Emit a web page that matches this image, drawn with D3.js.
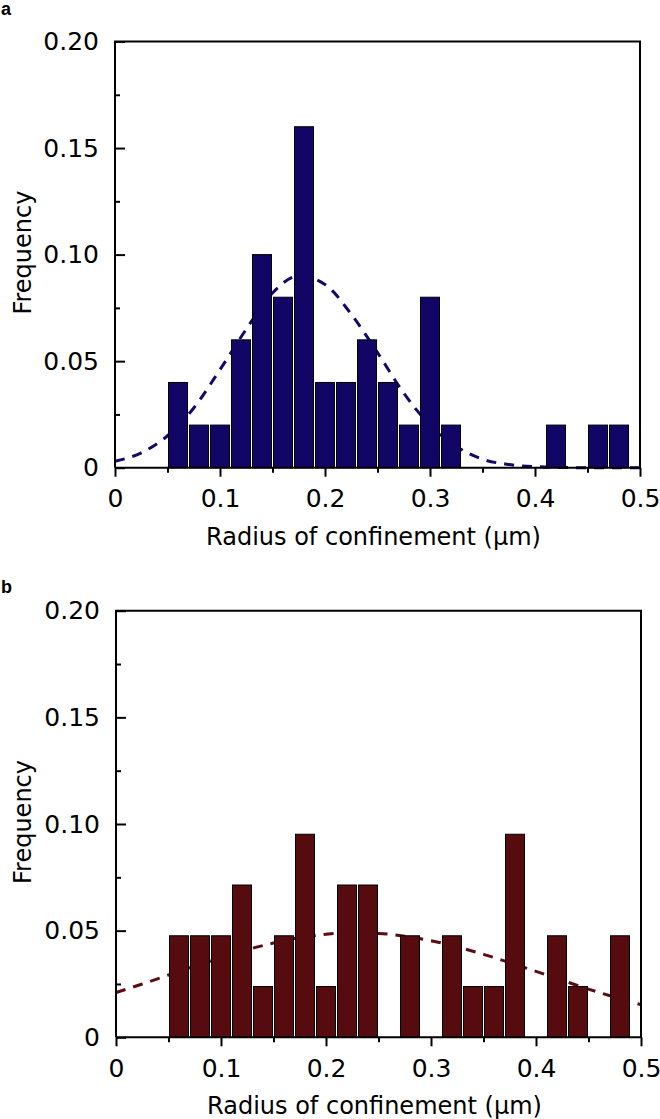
<!DOCTYPE html>
<html><head><meta charset="utf-8">
<script src="https://cdn.jsdelivr.net/npm/d3@7"></script>
<style>body{margin:0;background:#fff}svg{display:block}</style>
</head><body>
<svg id="chart" width="660" height="1119"></svg>
<script>
// ---- data ----
const binCenters = [0.06,0.08,0.10,0.12,0.14,0.16,0.18,0.20,0.22,0.24,0.26,0.28,0.30,0.32,0.34,0.36,0.38,0.40,0.42,0.44,0.46,0.48];
const freqA = [0.04,0.02,0.02,0.06,0.10,0.08,0.16,0.04,0.04,0.06,0.04,0.02,0.08,0.02,0,0,0,0,0.02,0,0.02,0.02];
const freqB = [0.0476,0.0476,0.0476,0.0714,0.0238,0.0476,0.0952,0.0238,0.0714,0.0714,0,0.0476,0,0.0476,0.0238,0.0238,0.0952,0,0.0476,0.0238,0,0.0476];
const fitXA = [0,0.025,0.05,0.075,0.1,0.125,0.15,0.175,0.2,0.225,0.25,0.275,0.3,0.325,0.35,0.375,0.4,0.45,0.5];
const fitYA = [0.003,0.007,0.015,0.028,0.046,0.065,0.082,0.090,0.086,0.072,0.054,0.035,0.020,0.010,0.004,0.0015,0.0005,0.0,0.0];
const fitXB = [0,0.025,0.05,0.075,0.1,0.125,0.15,0.175,0.2,0.225,0.25,0.275,0.3,0.325,0.35,0.375,0.4,0.425,0.45,0.475,0.5];
const fitYB = [0.021,0.025,0.0292,0.0334,0.0374,0.0411,0.0442,0.0467,0.0483,0.049,0.0487,0.0474,0.0453,0.0424,0.0389,0.035,0.0309,0.0267,0.0226,0.0188,0.0153];
const xMajor = [0,0.1,0.2,0.3,0.4,0.5];
const xMinor = [0.05,0.15,0.25,0.35,0.45];
const yMajor = [0,0.05,0.10,0.15,0.20];
const yMinor = [0.025,0.075,0.125,0.175];
const xTickLabels = ["0","0.1","0.2","0.3","0.4","0.5"];
const yTickLabels = ["0","0.05","0.10","0.15","0.20"];
const xTitle = "Radius of confinement (\u03bcm)";
const yTitle = "Frequency";

const svg = d3.select("#chart");
const FONT = "'DejaVu Sans', Verdana, sans-serif";

function panel(opt){
  const {left,right,top,bottom,freq,fitX,fitY,barColor,lineColor,label,labelY} = opt;
  const x = d3.scaleLinear().domain([0,0.5]).range([left,right]);
  const y = d3.scaleLinear().domain([0,0.2]).range([bottom,top]);
  const g = svg.append("g");
  // fit curve (drawn behind bars)
  const line = d3.line().x(d=>x(d[0])).y(d=>y(d[1])).curve(d3.curveMonotoneX);
  g.append("path").datum(fitX.map((v,i)=>[v,fitY[i]]))
    .attr("d",line).attr("fill","none").attr("stroke",lineColor)
    .attr("stroke-width",3).attr("stroke-dasharray","10,8");
  // bars
  g.selectAll("rect.bar").data(binCenters.map((c,i)=>({c,v:freq[i]})).filter(d=>d.v>0))
    .enter().append("rect")
    .attr("x",d=>x(d.c-0.01)+1)
    .attr("width",d=>x(d.c+0.01)-x(d.c-0.01)-2)
    .attr("y",d=>y(d.v))
    .attr("height",d=>y(0)-y(d.v))
    .attr("fill",barColor).attr("stroke","#000").attr("stroke-width",1);
  // frame
  g.append("path").attr("d",`M${left},${bottom}V${top}H${right}V${bottom}H${left}`)
    .attr("fill","none").attr("stroke","#000").attr("stroke-width",2);
  // x axis
  const xa = g.append("g").attr("transform",`translate(0,${bottom})`)
    .call(d3.axisBottom(x).tickValues(xMajor).tickSize(9).tickPadding(13).tickFormat((d,i)=>xTickLabels[i]));
  xa.select(".domain").remove();
  xa.selectAll("line").attr("stroke-width",2);
  xa.selectAll("text").attr("font-family",FONT).attr("font-size",25).attr("fill","#000");
  const xm = g.append("g").attr("transform",`translate(0,${bottom})`)
    .call(d3.axisBottom(x).tickValues(xMinor).tickSize(5).tickFormat(""));
  xm.select(".domain").remove();
  xm.selectAll("line").attr("stroke-width",2);
  // y axis (ticks inward)
  const ya = g.append("g").attr("transform",`translate(${left},0)`)
    .call(d3.axisLeft(y).tickValues(yMajor).tickSize(-10).tickPadding(16).tickFormat((d,i)=>yTickLabels[i]));
  ya.select(".domain").remove();
  ya.selectAll("line").attr("stroke-width",2);
  ya.selectAll("text").attr("font-family",FONT).attr("font-size",25).attr("fill","#000");
  const ym = g.append("g").attr("transform",`translate(${left},0)`)
    .call(d3.axisLeft(y).tickValues(yMinor).tickSize(-5).tickFormat(""));
  ym.select(".domain").remove();
  ym.selectAll("line").attr("stroke-width",2);
  // titles
  g.append("text").attr("x",(left+right)/2-4).attr("y",bottom+77).attr("text-anchor","middle")
    .attr("font-family",FONT).attr("font-size",24).text(xTitle);
  g.append("text").attr("transform",`translate(31,${(top+bottom)/2-2}) rotate(-90)`).attr("text-anchor","middle")
    .attr("font-family",FONT).attr("font-size",24).text(yTitle);
  g.append("text").attr("x",1).attr("y",labelY).attr("font-family","'Liberation Sans', Arial, sans-serif")
    .attr("font-weight","bold").attr("font-size",18).text(label);
}

panel({left:115,right:640,top:41.5,bottom:467.7,freq:freqA,fitX:fitXA,fitY:fitYA,
  barColor:"#110566",lineColor:"#14096a",label:"a",labelY:15});
panel({left:116,right:641,top:610.7,bottom:1037.3,freq:freqB,fitX:fitXB,fitY:fitYB,
  barColor:"#560b0e",lineColor:"#5a0c10",label:"b",labelY:593});
</script>
</body></html>
